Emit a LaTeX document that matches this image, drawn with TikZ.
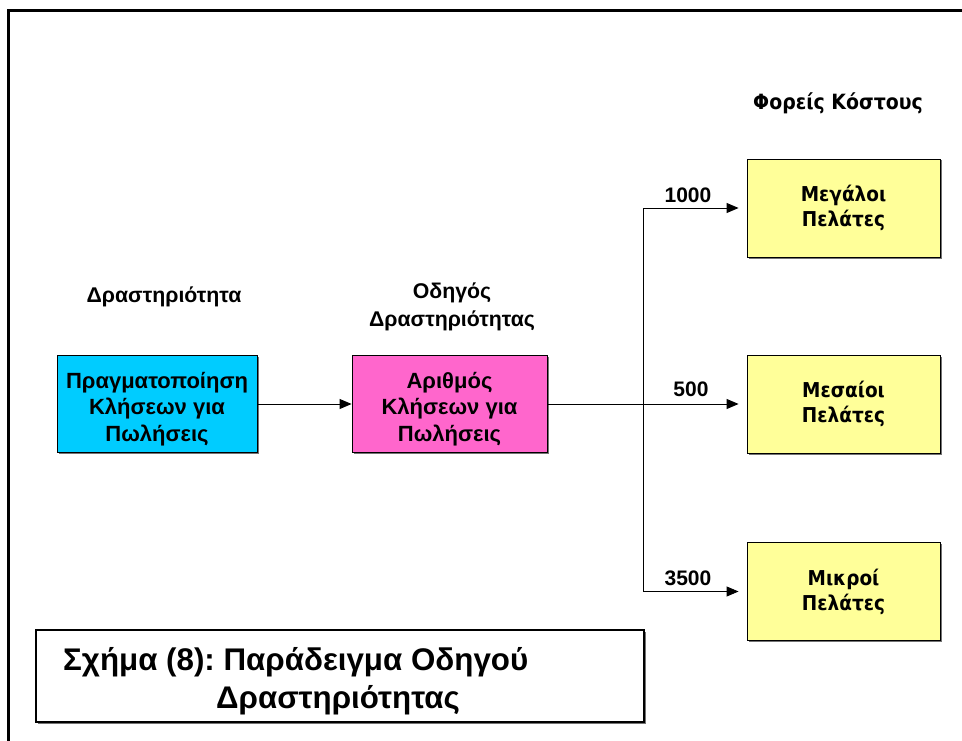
\documentclass[tikz,border=0pt]{standalone}
\usepackage{fontspec}
\setmainfont{Liberation Sans}
\newfontfamily\tahomalike{DejaVu Sans Condensed}
\frenchspacing
\usetikzlibrary{arrows.meta,shadows}
\definecolor{actblue}{RGB}{0,204,255}
\definecolor{drvpink}{RGB}{255,102,204}
\definecolor{objyellow}{RGB}{255,255,153}
\begin{document}
\begin{tikzpicture}[x=1pt,y=-1pt,
  box/.style={draw=black,line width=0.9pt,inner sep=0pt,align=center,
    drop shadow={shadow xshift=1.5pt,shadow yshift=-1.5pt,fill=black!55,opacity=1}},
  % multi-line box caption, set a little below the box centre
  boxtext/.style={label={[align=center,inner sep=0pt,yshift=-5pt,
    font=\fontsize{22}{26.5}\selectfont\bfseries]center:#1}},
  actbox/.style={box,fill=actblue,minimum width=200pt,minimum height=97pt},
  drvbox/.style={box,fill=drvpink,minimum width=195pt,minimum height=97pt},
  objbox/.style={box,fill=objyellow,minimum width=193pt,minimum height=98pt,
    font=\tahomalike\fontsize{20.5}{25}\selectfont\bfseries},
  head/.style={align=center,font=\fontsize{21.3}{28}\selectfont\bfseries},
  qty/.style={font=\fontsize{21}{24}\selectfont\bfseries},
  link/.style={line width=0.9pt,-{Triangle[length=12pt,width=10pt]}}]
\useasboundingbox (0,0) rectangle (962,741);
% page frame (top and left edges)
\draw[line width=3pt] (8,741) -- (8,11) -- (962,11);

% column headings
\node[head] (hact) at (164,297) {Δραστηριότητα};
\node[head] (hdrv) at (452,307) {Οδηγός\\Δραστηριότητας};
\node[head,font=\tahomalike\fontsize{21}{24}\selectfont\bfseries] (hobj) at (838,103) {Φορείς Κόστους};

% activity, driver and cost objects
\node[actbox,boxtext={Πραγματοποίηση\\Κλήσεων για\\Πωλήσεις}] (act) at (157,404) {};
\node[drvbox,boxtext={Αριθμός\\Κλήσεων για\\Πωλήσεις}] (drv) at (449.5,404) {};
\node[objbox] (big) at (843.5,208) {Μεγάλοι\\Πελάτες};
\node[objbox] (mid) at (843.5,404) {Μεσαίοι\\Πελάτες};
\node[objbox] (sml) at (843.5,591.5) {Μικροί\\Πελάτες};

% connectors
\coordinate (fork) at (643,404);
\draw[link] (act) -- (drv);
\draw[link,shorten >=8pt] (drv) -- (mid);
\draw[link,shorten >=8pt] (fork) |- (big);
\draw[link,shorten >=8pt] (fork) |- (sml);

% driver quantities
\node[qty] (q1) at (688,195) {1000};
\node[qty] (q2) at (691,389) {500};
\node[qty] (q3) at (688,578) {3500};

% caption
\node[draw=black,line width=1.2pt,minimum width=608pt,minimum height=92pt,inner sep=0pt,
  drop shadow={shadow xshift=1.5pt,shadow yshift=-1.5pt,fill=black!55,opacity=1},fill=white]
  (cap) at (340,676) {};
\node[anchor=west,align=left,inner sep=0pt,font=\fontsize{31.3}{38}\selectfont\bfseries]
  (captext) at (63,681) {Σχήμα (8): Παράδειγμα Οδηγού\\\hspace*{153pt}Δραστηριότητας};
\end{tikzpicture}
\end{document}
